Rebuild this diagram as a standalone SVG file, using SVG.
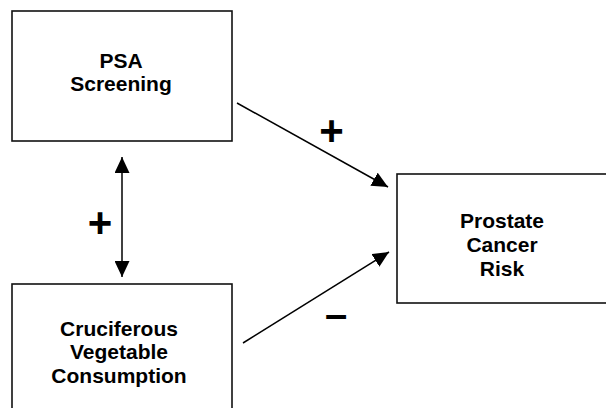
<svg xmlns="http://www.w3.org/2000/svg" width="606" height="408" viewBox="0 0 606 408">
<style>
.box{fill:#fff;stroke:#111;stroke-width:1.6}
.lbl{font-family:"Liberation Sans",Arial,sans-serif;font-weight:bold;font-size:21px;fill:#000;text-anchor:middle}
.sign{font-family:"Liberation Sans",Arial,sans-serif;font-weight:bold;fill:#000;text-anchor:middle}
.edge{stroke:#000;stroke-width:1.5;fill:none}
</style>
<defs>
<marker id="ah" markerUnits="userSpaceOnUse" markerWidth="17" markerHeight="15" refX="16" refY="7.5" orient="auto-start-reverse" viewBox="0 0 17 15">
<path d="M0,0 L16,7.5 L0,15 z" fill="#000"/>
</marker>
</defs>
<rect width="606" height="408" fill="#fff"/>
<g id="psa">
<rect class="box" x="12" y="11" width="220" height="130"/>
<text class="lbl" x="121" y="68">PSA</text>
<text class="lbl" x="121" y="91">Screening</text>
</g>
<g id="cruciferous">
<rect class="box" x="12" y="284" width="220" height="130"/>
<text class="lbl" x="119" y="336">Cruciferous</text>
<text class="lbl" x="119" y="359">Vegetable</text>
<text class="lbl" x="119" y="383">Consumption</text>
</g>
<g id="prostate">
<rect class="box" x="397" y="174" width="212" height="129"/>
<text class="lbl" x="502" y="228">Prostate</text>
<text class="lbl" x="502" y="252">Cancer</text>
<text class="lbl" x="502" y="276">Risk</text>
</g>
<g id="connectors">
<line class="edge" x1="237" y1="103" x2="388" y2="187" marker-end="url(#ah)"/>
<line class="edge" x1="243" y1="343" x2="389" y2="252" marker-end="url(#ah)"/>
<line class="edge" x1="122" y1="157" x2="122" y2="277" marker-start="url(#ah)" marker-end="url(#ah)"/>
<text class="sign" x="331.5" y="144.5" font-size="42">+</text>
<text class="sign" x="100" y="236.5" font-size="42">+</text>
<text class="sign" x="336" y="328" font-size="40">–</text>
</g>
</svg>
